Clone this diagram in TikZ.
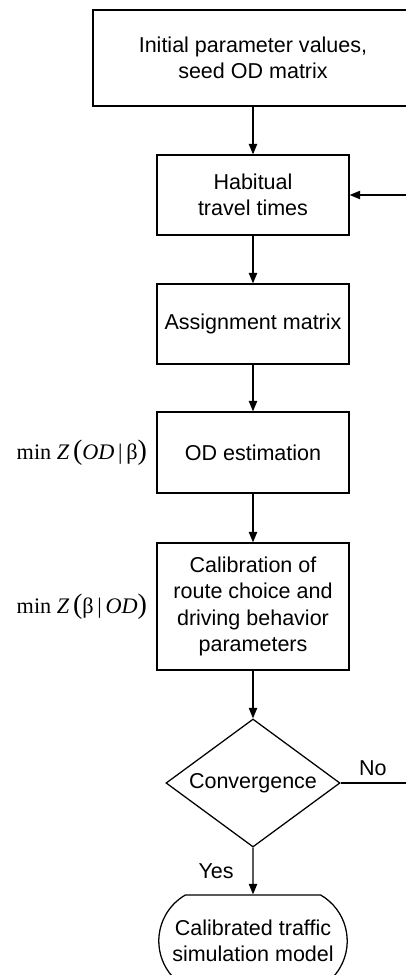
\documentclass[tikz,border=0pt]{standalone}
\usepackage{fontspec}
\setmainfont{Liberation Sans}
\newfontfamily\labelfont{Liberation Serif}
\usetikzlibrary{positioning,shapes.geometric,shapes.misc,arrows.meta}

\tikzset{
  box/.style={draw, line width=0.9pt, align=center, inner sep=2pt,
    font=\fontsize{15.3}{18.6}\selectfont},
  decision/.style={box, diamond, aspect=1.36, inner sep=0pt},
  terminal/.style={box, rounded rectangle, rounded rectangle arc length=120},
  flow/.style={line width=0.9pt, -{Triangle[length=7.5pt,width=6pt]}},
  note/.style={font=\fontsize{15.3}{18.6}\selectfont},
  minlabel/.style={font=\labelfont\fontsize{15.8}{18}\selectfont, inner sep=0pt}
}
\newcommand{\bigpar}[1]{{\fontsize{20}{18}\selectfont #1}}

\begin{document}
\begin{tikzpicture}[x=0.025cm, y=-0.025cm]

\useasboundingbox (0,0) rectangle (406,975);
\clip (0,0) rectangle (406,975);

\node[box, minimum width=8cm, minimum height=2.4cm] (init) at (253,58) {Initial parameter values,\\seed OD matrix};
\node[box, minimum width=4.8cm, minimum height=2cm] (habit) at (253,195) {Habitual\\travel times};
\node[box, minimum width=4.8cm, minimum height=2cm] (assign) at (253,324) {Assignment matrix};
\node[box, minimum width=4.8cm, minimum height=2.025cm] (odest) at (253,452.5) {OD estimation};
\node[box, minimum width=4.8cm, minimum height=3.175cm] (calib) at (253,606.5) {Calibration of\\route choice and\\driving behavior\\parameters};
\node[decision, minimum width=4.35cm, minimum height=3.2cm] (conv) at (253,783) {Convergence};
\node[terminal, minimum width=4.85cm, minimum height=2.3cm] (final) at (253,941) {Calibrated traffic\\simulation model};

\node[minlabel, left=0.225cm of odest] (odlabel) {min \textit{Z}\,\bigpar{(}\textit{OD}\,|\,β\bigpar{)}};
\node[minlabel, left=0.225cm of calib] (calibLabel) {min \textit{Z}\,\bigpar{(}β\,|\,\textit{OD}\bigpar{)}};

\coordinate (loopA) at (412,783);
\coordinate (loopB) at (412,195);

\draw[flow] (init) -- (habit);
\draw[flow] (habit) -- (assign);
\draw[flow] (assign) -- (odest);
\draw[flow] (odest) -- (calib);
\draw[flow] (calib) -- (conv);
\draw[flow] (conv) -- node[note, midway, left=0.35cm] {Yes} (final);
\draw[flow] (conv.east) -- node[note, pos=0.45, above=0.05cm] {No} (loopA) -- (loopB) -- (habit.east);

\end{tikzpicture}
\end{document}
